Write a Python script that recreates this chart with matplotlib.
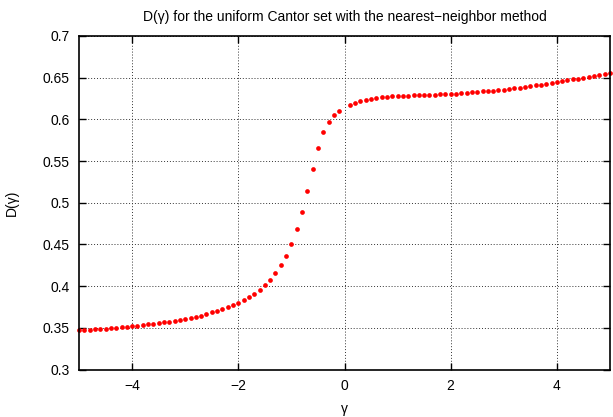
import numpy as np
import matplotlib
matplotlib.use("Agg")
import matplotlib.pyplot as plt

plt.rcParams['font.family'] = ['Liberation Sans', 'DejaVu Sans']

gamma = np.round(np.arange(-5.0, 5.0001, 0.1), 1)
D = np.array([
    0.3472, 0.3476, 0.3480, 0.3484, 0.3488, 0.3492, 0.3496, 0.3504, 0.3508, 0.3516,
    0.3524, 0.3528, 0.3536, 0.3544, 0.3552, 0.3560, 0.3568, 0.3576, 0.3584, 0.3592,
    0.3604, 0.3616, 0.3628, 0.3646, 0.3668, 0.3688, 0.3704, 0.3724, 0.3748, 0.3776,
    0.3804, 0.3832, 0.3868, 0.3912, 0.3956, 0.4016, 0.4080, 0.4156, 0.4250, 0.4365,
    0.4505, 0.4681, 0.4893, 0.5145, 0.5408, 0.5656, 0.5844, 0.5968, 0.6048, 0.6100,
    np.nan,
    0.6174, 0.6200, 0.6220, 0.6236, 0.6248, 0.6256, 0.6264, 0.6272, 0.6276, 0.6280,
    0.6280, 0.6284, 0.6288, 0.6288, 0.6292, 0.6292, 0.6296, 0.6300, 0.6304, 0.6308,
    0.6310, 0.6316, 0.6320, 0.6324, 0.6328, 0.6336, 0.6340, 0.6344, 0.6352, 0.6356,
    0.6364, 0.6372, 0.6380, 0.6388, 0.6400, 0.6408, 0.6416, 0.6428, 0.6436, 0.6448,
    0.6460, 0.6468, 0.6480, 0.6488, 0.6500, 0.6508, 0.6520, 0.6532, 0.6544, 0.6556,
])

xticks = [-4, -2, 0, 2, 4]
yticks = [0.3, 0.35, 0.4, 0.45, 0.5, 0.55, 0.6, 0.65, 0.7]
ytick_labels = ["0.3", "0.35", "0.4", "0.45", "0.5", "0.55", "0.6", "0.65", "0.7"]
xtick_labels = ["\u22124", "\u22122", "0", "2", "4"]

title = "D(\u03b3) for the uniform Cantor set with the nearest\u2212neighbor method"

fig = plt.figure(figsize=(6.13, 4.17), dpi=100)
ax = fig.add_axes([0.129, 0.1137, 0.866, 0.8],)

ax.plot(gamma, D, 'o', color='#ff0000', markersize=3.4, markeredgewidth=0, clip_on=False)

ax.set_xlim(-5, 5)
ax.set_ylim(0.3, 0.7)
ax.set_xticks(xticks)
ax.set_xticklabels(xtick_labels)
ax.set_yticks(yticks)
ax.set_yticklabels(ytick_labels)
ax.grid(True, color='#333333', linestyle=(0, (1, 2)), linewidth=0.7)
ax.tick_params(direction='in', length=5, width=1, top=True, right=True,
               labelsize=10, pad=7, colors='black')
for s in ax.spines.values():
    s.set_linewidth(1.2)
    s.set_color('black')

ax.set_title(title, fontsize=10, pad=11)
ax.set_xlabel("\u03b3", fontsize=10, labelpad=6)
ax.set_ylabel("D(\u03b3)", fontsize=10, labelpad=17)

fig.savefig("out.png", dpi=100)
